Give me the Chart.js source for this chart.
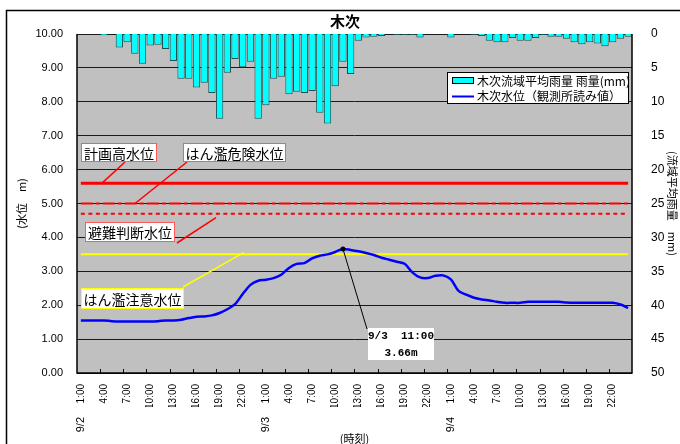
<!DOCTYPE html>
<html lang="ja">
<head>
<meta charset="UTF-8">
<title>木次</title>
<script src="https://cdn.jsdelivr.net/npm/chart.js@4"></script>
<style>
  body { margin: 0; background: #fff; overflow: hidden; }
  .wrap { position: relative; width: 680px; height: 444px; }
</style>
</head>
<body>
<div class="wrap"><canvas id="myChart" width="680" height="444"></canvas></div>
<script>
// 日付と時刻
const days = ['9/2', '9/3', '9/4'];
const hours = ['1:00', '2:00', '3:00', '4:00', '5:00', '6:00', '7:00', '8:00', '9:00', '10:00', '11:00', '12:00',
  '13:00', '14:00', '15:00', '16:00', '17:00', '18:00', '19:00', '20:00', '21:00', '22:00', '23:00', '24:00'];

// 木次流域平均雨量 (mm)
const rain = [
  0, 0, 0, 0.2, 0, 2.0, 1.2, 2.9, 4.4, 1.7, 1.6, 2.2, 4.0, 6.6, 6.6, 7.9, 7.2, 8.7, 12.5, 5.7, 3.7, 4.9, 4.1, 12.5,
  10.5, 6.6, 6.3, 8.9, 8.5, 8.7, 8.4, 11.6, 13.2, 7.7, 4.1, 5.9, 1.0, 0.5, 0.4, 0.3, 0, 0.1, 0.1, 0.1, 0.5, 0, 0, 0,
  0.5, 0, 0, 0.1, 0.3, 1.0, 1.2, 1.2, 0.6, 1.0, 1.0, 0.6, 0.1, 0.4, 0.4, 0.7, 1.2, 1.5, 1.2, 1.4, 1.8, 1.2, 0.7, 0.4
];

// 木次水位 (m)
const level = [
  1.55, 1.55, 1.55, 1.55, 1.53, 1.52, 1.52, 1.52, 1.52, 1.52, 1.53, 1.55, 1.55, 1.57, 1.62, 1.66, 1.67, 1.70, 1.77, 1.88, 2.03, 2.33, 2.60, 2.72,
  2.75, 2.80, 2.90, 3.10, 3.22, 3.24, 3.38, 3.46, 3.50, 3.57, 3.66, 3.63, 3.59, 3.54, 3.48, 3.40, 3.34, 3.28, 3.22, 2.97, 2.82, 2.80, 2.87, 2.88,
  2.76, 2.42, 2.31, 2.22, 2.17, 2.14, 2.10, 2.07, 2.07, 2.07, 2.10, 2.10, 2.10, 2.10, 2.10, 2.08, 2.07, 2.07, 2.07, 2.07, 2.07, 2.07, 2.02, 1.92
];

// 基準水位
const levelNames = ['計画高水位', 'はん濫危険水位', '避難判断水位', 'はん濫注意水位'];
const levelValues = [5.6, 5.0, 4.7, 3.5];

// カテゴリは "日付 時刻" (目盛には時刻だけを出す)
const labels = [];
days.forEach(d => hours.forEach(h => labels.push(d + '  ' + h)));
const timeOf = i => labels[i].split('  ')[1];

const LATIN = '"Liberation Sans", "Noto Sans CJK JP", sans-serif';
const JP = '"Noto Sans CJK JP", sans-serif';

const levelStyle = [
  { color: '#ff0000', width: 3, dash: [] },
  { color: '#ff0000', width: 2, dash: [12, 3, 4, 3] },
  { color: '#ff0000', width: 2, dash: [4, 3.5] },
  { color: '#ffff00', width: 2, dash: [] }
];

// 基準水位の線 (最初と最後の時刻を結ぶ)
const levelSets = levelValues.map((v, i) => ({
  type: 'line',
  label: levelNames[i],
  data: [{ x: labels[0], y: v }, { x: labels[labels.length - 1], y: v }],
  borderColor: levelStyle[i].color,
  borderWidth: levelStyle[i].width,
  borderDash: levelStyle[i].dash,
  pointRadius: 0,
  yAxisID: 'y',
  xAxisID: 'x'
}));

function box(ctx, text, x1, y1, x2, y2, border) {
  ctx.fillStyle = '#fff';
  ctx.fillRect(x1, y1, x2 - x1, y2 - y1);
  ctx.strokeStyle = border;
  ctx.lineWidth = 1;
  ctx.strokeRect(x1 + 0.5, y1 + 0.5, x2 - x1 - 1, y2 - y1 - 1);
  ctx.fillStyle = '#000';
  ctx.font = '14px ' + JP;
  ctx.textAlign = 'center';
  ctx.textBaseline = 'middle';
  ctx.fillText(text, (x1 + x2) / 2, (y1 + y2) / 2 + 1);
}

function leader(ctx, color, x1, y1, x2, y2) {
  ctx.strokeStyle = color;
  ctx.lineWidth = 1.5;
  ctx.beginPath();
  ctx.moveTo(x1, y1);
  ctx.lineTo(x2, y2);
  ctx.stroke();
}

const decor = {
  id: 'decor',
  beforeDraw(chart) {
    const { ctx, chartArea: a } = chart;
    ctx.save();
    ctx.fillStyle = '#fff';
    ctx.fillRect(0, 0, chart.width, chart.height);
    ctx.strokeStyle = '#000';
    ctx.lineWidth = 1.5;
    ctx.strokeRect(6.5, 10.5, 720, 520);
    ctx.fillStyle = '#c0c0c0';
    ctx.fillRect(a.left, a.top, a.right - a.left, a.bottom - a.top);
    ctx.fillStyle = '#000';
    ctx.font = 'bold 15px ' + JP;
    ctx.textAlign = 'center';
    ctx.textBaseline = 'middle';
    ctx.fillText('木次', 345, 21);
    ctx.restore();
  },
  afterDatasetsDraw(chart) {
    const { ctx, chartArea: a } = chart;
    const xs = chart.scales.x, ys = chart.scales.y;
    ctx.save();

    // 軸線
    ctx.strokeStyle = '#000';
    ctx.lineWidth = 1.5;
    ctx.beginPath();
    ctx.moveTo(a.left, a.top);
    ctx.lineTo(a.left, a.bottom);
    ctx.lineTo(a.right, a.bottom);
    ctx.lineTo(a.right, a.top);
    ctx.stroke();

    // 目盛 (3時間ごと、内向き)
    const w = xs.getPixelForValue(1) - xs.getPixelForValue(0);
    ctx.lineWidth = 1;
    for (let i = 3; i < labels.length; i += 3) {
      const x = Math.round(xs.getPixelForValue(i) - w / 2) + 0.5;
      ctx.beginPath();
      ctx.moveTo(x, a.bottom - 4);
      ctx.lineTo(x, a.bottom);
      ctx.stroke();
    }

    // 基準水位のラベル
    leader(ctx, '#ff0000', 125, 162, 102, ys.getPixelForValue(levelValues[0]));
    leader(ctx, '#ff0000', 187, 162, 135, ys.getPixelForValue(levelValues[1]));
    leader(ctx, '#ff0000', 177, 243, 216, ys.getPixelForValue(levelValues[2]) + 4);
    leader(ctx, '#ffff00', 183, 287, 244, ys.getPixelForValue(levelValues[3]) - 2);
    box(ctx, levelNames[0], 81, 143, 157, 162, '#ff5a5a');
    box(ctx, levelNames[1], 183, 143, 286, 162, '#ff5a5a');
    box(ctx, levelNames[2], 85, 222, 175, 242, '#ff5a5a');
    box(ctx, levelNames[3], 81, 288, 184, 309, '#ffff00');

    // 最高水位の吹き出し
    const peak = level.indexOf(Math.max(...level));
    const px = xs.getPixelForValue(peak), py = ys.getPixelForValue(level[peak]);
    ctx.strokeStyle = '#000';
    ctx.lineWidth = 1;
    ctx.beginPath();
    ctx.moveTo(px, py);
    ctx.lineTo(367, 329);
    ctx.stroke();
    ctx.fillStyle = '#000';
    ctx.beginPath();
    ctx.arc(px, py, 2.5, 0, Math.PI * 2);
    ctx.fill();
    ctx.fillStyle = '#fff';
    ctx.fillRect(368, 328, 66, 32);
    ctx.fillStyle = '#000';
    ctx.font = 'bold 11px "Liberation Mono", monospace';
    ctx.textAlign = 'center';
    ctx.textBaseline = 'middle';
    ctx.fillText(labels[peak], 401, 336.5);
    ctx.fillText(level[peak].toFixed(2) + 'm', 401, 353);

    // 凡例
    ctx.fillStyle = '#fff';
    ctx.fillRect(447, 72, 182, 32);
    ctx.strokeStyle = '#000';
    ctx.strokeRect(447.5, 72.5, 181, 31);
    ctx.fillStyle = '#00ffff';
    ctx.fillRect(452, 77.5, 22, 6);
    ctx.strokeRect(452.5, 77.5, 21, 6);
    ctx.strokeStyle = '#0000ff';
    ctx.lineWidth = 2;
    ctx.beginPath();
    ctx.moveTo(452, 96.5);
    ctx.lineTo(474, 96.5);
    ctx.stroke();
    ctx.fillStyle = '#000';
    ctx.font = '12px ' + JP;
    ctx.textAlign = 'left';
    ctx.fillText('木次流域平均雨量 雨量(mm)', 477, 81);
    ctx.fillText('木次水位（観測所読み値）', 477, 96);

    ctx.restore();
  }
};

const ctx = document.getElementById('myChart');

const myChart = new Chart(ctx, {
  data: {
    labels: labels,
    datasets: [
      {
        type: 'line',
        label: '木次水位（観測所読み値）',
        data: level,
        borderColor: '#0000ff',
        borderWidth: 2.5,
        pointRadius: 0,
        tension: 0.3,
        yAxisID: 'y',
        xAxisID: 'x'
      },
      ...levelSets,
      {
        type: 'bar',
        label: '木次流域平均雨量 雨量(mm)',
        data: rain,
        backgroundColor: '#00ffff',
        borderColor: '#1a5050',
        borderWidth: 1,
        barPercentage: 0.95,
        categoryPercentage: 1,
        yAxisID: 'y2',
        xAxisID: 'x'
      }
    ]
  },
  plugins: [decor],
  options: {
    responsive: false,
    animation: false,
    layout: { padding: { top: 34, left: 0, right: 0, bottom: 0 } },
    plugins: {
      legend: { display: false },
      title: { display: false },
      tooltip: { enabled: false }
    },
    scales: {
      x: {
        type: 'category',
        position: 'bottom',
        offset: true,
        weight: 0,
        grid: { display: false },
        border: { display: false },
        ticks: {
          autoSkip: false,
          minRotation: 90,
          maxRotation: 90,
          padding: 3,
          color: '#000',
          font: { family: LATIN, size: 10 },
          callback: (v, i) => (i % 3 === 0 ? timeOf(i) : '')
        },
        afterFit: s => { s.height = 34; }
      },
      x2: {
        type: 'category',
        position: 'bottom',
        offset: true,
        weight: 1,
        grid: { display: false },
        border: { display: false },
        ticks: {
          autoSkip: false,
          minRotation: 90,
          maxRotation: 90,
          padding: 2,
          color: '#000',
          font: { family: LATIN, size: 11 },
          callback: (v, i) => (i % 24 === 0 ? days[i / 24] : '')
        },
        title: {
          display: true,
          text: '(時刻)',
          color: '#000',
          padding: 0,
          font: { family: JP, size: 11, lineHeight: 1 }
        },
        afterFit: s => { s.height = 37; }
      },
      y: {
        position: 'left',
        min: 0,
        max: 10,
        grid: { color: '#1a1a1a', lineWidth: 1, drawTicks: false },
        border: { display: false },
        ticks: {
          stepSize: 1,
          padding: 14,
          color: '#000',
          font: { family: LATIN, size: 11 },
          callback: v => v.toFixed(2)
        },
        title: {
          display: true,
          text: '(水位　m)',
          color: '#000',
          padding: { top: 15, bottom: 0 },
          font: { family: JP, size: 11 }
        },
        afterFit: s => { s.width = 77; }
      },
      y2: {
        position: 'right',
        min: 0,
        max: 50,
        reverse: true,
        grid: { display: false },
        border: { display: false },
        ticks: {
          stepSize: 5,
          padding: 11,
          color: '#000',
          font: { family: LATIN, size: 12 }
        },
        title: {
          display: true,
          text: '(流域平均雨量　mm)',
          color: '#000',
          padding: { top: 1, bottom: 0 },
          font: { family: JP, size: 11 }
        },
        afterFit: s => { s.width = 48; }
      }
    }
  }
});
</script>
</body>
</html>
